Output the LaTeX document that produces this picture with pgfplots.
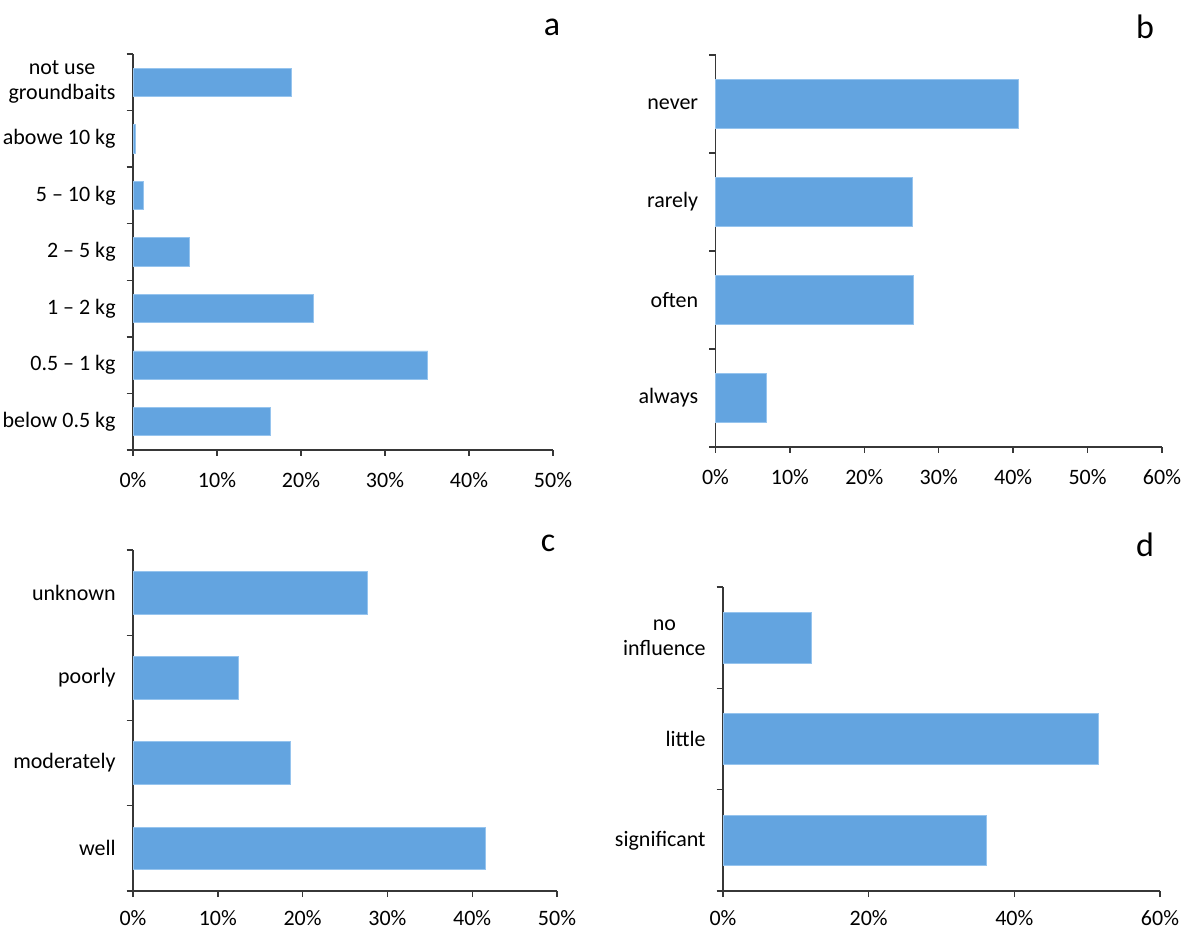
\documentclass[border=0pt]{standalone}
\usepackage{fontspec}
\setmainfont{Carlito}
\usepackage{pgfplots}
\pgfplotsset{compat=1.18}
\definecolor{barblue}{RGB}{99,164,224}
\definecolor{baredge}{RGB}{150,196,238}
\definecolor{axgray}{RGB}{55,55,55}
\newcommand{\lbl}{\fontsize{11}{12.5}\selectfont}
\newcommand{\panelfont}{\fontsize{17}{19}\selectfont}
\pgfplotsset{
  panel/.style={
    scale only axis,
    xbar, bar width=0.5,
    axis lines*=left,
    axis line style={axgray, line width=0.7pt},
    xmin=0,
    tick align=outside,
    major tick length=3pt,
    minor tick length=3.2pt,
    tick style={axgray, line width=0.7pt},
    major y tick style={draw=none},
    x tick label style={font=\lbl, inner sep=0pt, yshift=-8pt},
    y tick label style={font=\lbl, align=center, inner sep=0pt, xshift=-5.5pt},
    clip=false,
  },
  barstyle/.style={fill=barblue, draw=baredge, line width=0.4pt},
}
\begin{document}
\begin{tikzpicture}
\path[use as bounding box] (0,0) rectangle (600pt,466pt);
% panel a
\begin{axis}[panel, at={(66.5pt,241pt)}, anchor=south west,
  width=210pt, height=198pt, xmax=50, ymin=-0.5, ymax=6.5,
  xtick={0,10,20,30,40,50}, xticklabels={0\%,10\%,20\%,30\%,40\%,50\%},
  ytick={0,1,2,3,4,5,6},
  yticklabels={below 0.5 kg,0.5 – 1 kg,1 – 2 kg,2 – 5 kg,5 – 10 kg,abowe 10 kg,{not use\\groundbaits}},
  minor ytick={-0.5,0.5,1.5,2.5,3.5,4.5,5.5,6.5}]
\addplot[barstyle] coordinates {(16.4,0) (35.1,1) (21.5,2) (6.75,3) (1.25,4) (0.25,5) (18.9,6)};
\end{axis}
% panel b
\begin{axis}[panel, at={(357.75pt,242.5pt)}, anchor=south west,
  width=223.25pt, height=196pt, xmax=60, ymin=-0.5, ymax=3.5,
  xtick={0,10,20,30,40,50,60}, xticklabels={0\%,10\%,20\%,30\%,40\%,50\%,60\%},
  ytick={0,1,2,3},
  yticklabels={always,often,rarely,never},
  minor ytick={-0.5,0.5,1.5,2.5,3.5}]
\addplot[barstyle] coordinates {(6.8,0) (26.6,1) (26.5,2) (40.7,3)};
\end{axis}
% panel c
\begin{axis}[panel, at={(66.5pt,20.5pt)}, anchor=south west,
  width=212pt, height=170.5pt, xmax=50, ymin=-0.5, ymax=3.5,
  x tick label style={yshift=1.5pt},
  xtick={0,10,20,30,40,50}, xticklabels={0\%,10\%,20\%,30\%,40\%,50\%},
  ytick={0,1,2,3},
  yticklabels={well,moderately,poorly,unknown},
  minor ytick={-0.5,0.5,1.5,2.5,3.5}]
\addplot[barstyle] coordinates {(41.6,0) (18.6,1) (12.4,2) (27.7,3)};
\end{axis}
% panel d
\begin{axis}[panel, at={(361.5pt,20.5pt)}, anchor=south west,
  width=218.5pt, height=152pt, xmax=60, ymin=-0.5, ymax=2.5,
  x tick label style={yshift=1.5pt},
  xtick={0,20,40,60}, xticklabels={0\%,20\%,40\%,60\%},
  ytick={0,1,2},
  yticklabels={significant,little,{no\\influence}},
  minor ytick={-0.5,0.5,1.5,2.5}]
\addplot[barstyle] coordinates {(36.2,0) (51.6,1) (12.2,2)};
\end{axis}
\node[font=\panelfont] at (276pt,452.5pt) {a};
\node[font=\panelfont] at (572.5pt,452.5pt) {b};
\node[font=\panelfont] at (274pt,194.5pt) {c};
\node[font=\panelfont] at (572.5pt,193.5pt) {d};
\end{tikzpicture}
\end{document}
